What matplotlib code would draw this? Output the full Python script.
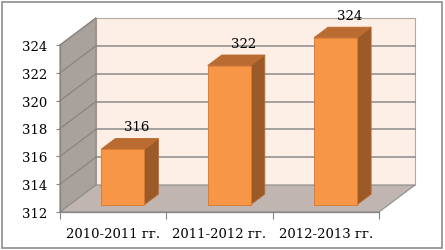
import matplotlib
matplotlib.use("Agg")
import matplotlib.pyplot as plt
from matplotlib.patches import Polygon, Rectangle

categories = ["2010-2011 гг.", "2011-2012 гг.", "2012-2013 гг."]
values = [316, 322, 324]
y_ticks = [312, 314, 316, 318, 320, 322, 324]

Y_MIN, Y_MAX = 312, 324
W, H = 445, 251
# front plot frame in pixels
FX0, FX1, FY0, FY1 = 60, 379, 213, 46
DEPTH_PX = (36, 27)  # back wall offset (right, up)

fig = plt.figure(figsize=(W / 100, H / 100), dpi=100)
ax = fig.add_axes([FX0 / W, (H - FY0) / H, (FX1 - FX0) / W, (FY0 - FY1) / H])
ax.set_xlim(0, len(categories))
ax.set_ylim(Y_MIN, Y_MAX)
ax.set_facecolor("none")

# depth offset expressed in data units
dx = DEPTH_PX[0] * len(categories) / (FX1 - FX0)
dy = DEPTH_PX[1] * (Y_MAX - Y_MIN) / (FY0 - FY1)
n = len(categories)

wall_kw = dict(clip_on=False, linewidth=0.8)
# back wall
ax.add_patch(Polygon([(dx, Y_MIN + dy), (n + dx, Y_MIN + dy), (n + dx, Y_MAX + dy), (dx, Y_MAX + dy)],
                     facecolor="#fdeee6", edgecolor="#b0aaa6", zorder=1, **wall_kw))
# left wall
ax.add_patch(Polygon([(0, Y_MIN), (dx, Y_MIN + dy), (dx, Y_MAX + dy), (0, Y_MAX)],
                     facecolor="#a9a19c", edgecolor="#8f8884", zorder=1, **wall_kw))
# floor
ax.add_patch(Polygon([(0, Y_MIN), (n, Y_MIN), (n + dx, Y_MIN + dy), (dx, Y_MIN + dy)],
                     facecolor="#c1b5b1", edgecolor="#8c8c8c", zorder=1, **wall_kw))

for t in y_ticks[1:-1]:
    ax.plot([dx, n + dx], [t + dy, t + dy], color="#8a8a8a", lw=1.1, zorder=2, clip_on=False)
for t in y_ticks[1:]:
    ax.plot([0, dx], [t, t + dy], color="#8a8480", lw=0.9, zorder=2, clip_on=False)

# bars
bw = 0.405
d0, d1 = 0.27, 0.66
for i, v in enumerate(values):
    x0 = i + 0.5 - bw / 2 + d0 * dx
    x1 = x0 + bw
    yb = Y_MIN + d0 * dy
    yt = v + d0 * dy
    ox, oy = (d1 - d0) * dx, (d1 - d0) * dy
    ax.add_patch(Polygon([(x1, yb), (x1 + ox, yb + oy), (x1 + ox, yt + oy), (x1, yt)],
                         facecolor="#9a5b28", edgecolor="#c0692a", lw=0.6, zorder=3, clip_on=False))
    ax.add_patch(Polygon([(x0, yt), (x1, yt), (x1 + ox, yt + oy), (x0 + ox, yt + oy)],
                         facecolor="#b96b32", edgecolor="#c0692a", lw=0.6, zorder=3, clip_on=False))
    ax.add_patch(Polygon([(x0, yb), (x1, yb), (x1, yt), (x0, yt)],
                         facecolor="#f79646", edgecolor="#d9762a", lw=0.6, zorder=4, clip_on=False))
    ax.annotate(str(v), ((x0 + x1) / 2 + ox, yt + oy), xytext=(0, 8.5), textcoords="offset points",
                ha="center", va="center", fontsize=9.5, family="DejaVu Serif", zorder=5,
                annotation_clip=False)

for s in ("top", "right"):
    ax.spines[s].set_visible(False)
for s in ("left", "bottom"):
    ax.spines[s].set_color("#868686")
    ax.spines[s].set_linewidth(0.9)
    ax.spines[s].set_zorder(2)

ax.set_yticks(y_ticks)
ax.set_yticklabels([str(t) for t in y_ticks], family="DejaVu Serif", fontsize=9.5)
ax.tick_params(axis="y", length=3, color="#868686", pad=6)
ax.set_xticks(range(n + 1))
ax.set_xticklabels([])
ax.tick_params(axis="x", which="major", length=5, color="#868686")
ax.set_xticks([i + 0.5 for i in range(n)], minor=True)
ax.set_xticklabels(categories, minor=True, family="DejaVu Serif", fontsize=9.5)
ax.tick_params(axis="x", which="minor", length=0, pad=11)

fig.patches.append(Rectangle((2 / W, 2 / H), 440 / W, 246 / H, transform=fig.transFigure,
                             fill=False, edgecolor="#8c8c8c", linewidth=1.2))

fig.savefig("out.png", dpi=100)
